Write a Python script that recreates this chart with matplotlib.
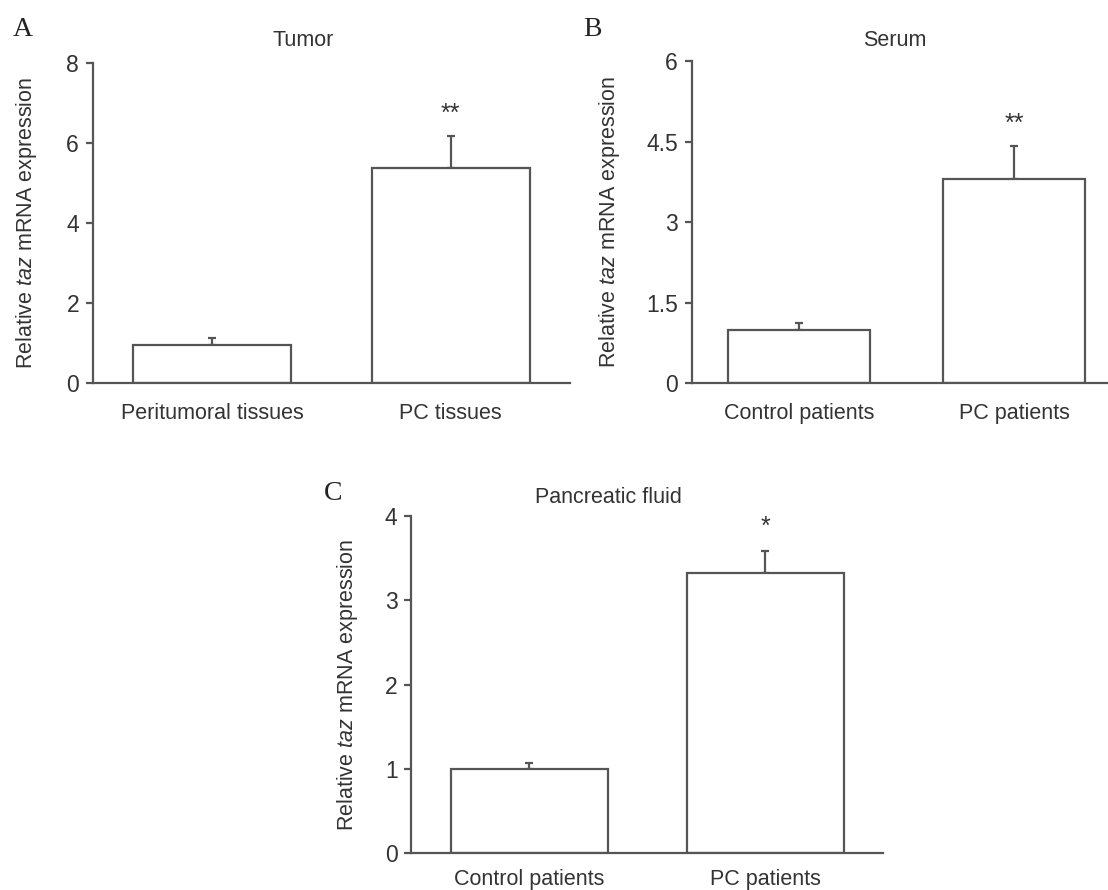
# taz mRNA expression bars: tumor / serum / pancreatic fluid

import matplotlib
matplotlib.use("Agg")
import matplotlib.pyplot as plt

# Panel A - tumor
tumor_groups = ["Peritumoral tissues", "PC tissues"]
tumor_mean = [0.96, 5.36]
tumor_err = [0.18, 0.81]
tumor_sig = ["", "**"]
tumor_ticks = [0, 2, 4, 6, 8]

# Panel B - serum
serum_groups = ["Control patients", "PC patients"]
serum_mean = [1.00, 3.80]
serum_err = [0.12, 0.61]
serum_sig = ["", "**"]
serum_ticks = [0, 1.5, 3, 4.5, 6]
serum_ticklabels = ["0", "1.5", "3", "4.5", "6"]

# Panel C - pancreatic fluid
fluid_groups = ["Control patients", "PC patients"]
fluid_mean = [1.00, 3.32]
fluid_err = [0.07, 0.27]
fluid_sig = ["", "*"]
fluid_ticks = [0, 1, 2, 3, 4]

LINE = "#555555"
TEXT = "#333333"
FS = 15.5

plt.rcParams["font.family"] = ["Liberation Sans", "DejaVu Sans"]
plt.rcParams["mathtext.fontset"] = "custom"
plt.rcParams["mathtext.rm"] = "Liberation Sans"
plt.rcParams["mathtext.it"] = "Liberation Sans:italic"

W, H = 1108, 890
fig = plt.figure(figsize=(W / 100, H / 100), dpi=100)
fig.patch.set_facecolor("white")


def px(x, y):
    # pixel coords (top-left origin) -> figure fraction
    return x / W, 1 - y / H


def make_axes(x0, x1, ytop, ybot):
    return fig.add_axes([x0 / W, 1 - ybot / H, (x1 - x0) / W, (ybot - ytop) / H])


def draw_panel(ax, groups, mean, err, sig, ticks, ymax, xmax,
               ticklabels=None, xpad=14):
    xs = list(range(len(groups)))
    ax.bar(xs, mean, width=0.663, color="white", edgecolor=LINE,
           linewidth=1.6, zorder=2)
    ax.errorbar(xs, mean, yerr=[[0] * len(err), err], fmt="none",
                ecolor=LINE, elinewidth=1.6, capsize=2.8, capthick=1.6,
                zorder=1)
    for x, m, e, s in zip(xs, mean, err, sig):
        if s:
            ax.text(x, m + e + 0.07 * ymax, s, ha="center", va="center",
                    fontsize=18, color=TEXT)
    ax.set_xlim(-0.5, xmax)
    ax.set_ylim(0, ymax)
    ax.set_xticks(xs)
    ax.set_xticklabels(groups, fontsize=FS, color=TEXT)
    ax.set_yticks(ticks)
    if ticklabels is not None:
        ax.set_yticklabels(ticklabels)
    ax.tick_params(axis="x", length=0, pad=xpad)
    ax.tick_params(axis="y", length=5, width=1.6, color=LINE, pad=5,
                   labelsize=16.5, labelcolor=TEXT)
    for side in ("top", "right"):
        ax.spines[side].set_visible(False)
    for side in ("left", "bottom"):
        ax.spines[side].set_color(LINE)
        ax.spines[side].set_linewidth(1.6)
        ax.spines[side].set_zorder(3)
    ax.set_facecolor("none")


YLAB = "Relative $\\it{taz}$ mRNA expression"

# A
axA = make_axes(93, 570, 62.7, 383.3)
draw_panel(axA, tumor_groups, tumor_mean, tumor_err, tumor_sig,
           tumor_ticks, 8, 1.5)
# B (axis runs off the right edge)
axB = make_axes(692, 1108, 61, 383.3)
draw_panel(axB, serum_groups, serum_mean, serum_err, serum_sig,
           serum_ticks, 6, 1.438, serum_ticklabels)
# C
axC = make_axes(411.4, 883.3, 516, 853.3)
draw_panel(axC, fluid_groups, fluid_mean, fluid_err, fluid_sig,
           fluid_ticks, 4, 1.5, xpad=11)

# titles, y labels, panel letters
for (tx, ty, title), (lx, ly), (cx, cy, letter) in [
    ((303, 40, "Tumor"), (27, 223), (23, 30, "A")),
    ((895, 40, "Serum"), (609, 222), (592, 29, "B")),
    ((608, 498, "Pancreatic fluid"), (348, 685), (333, 494, "C")),
]:
    fig.text(*px(tx, ty), title, ha="center", va="center", fontsize=FS,
             color=TEXT)
    fig.text(*px(lx, ly), YLAB, ha="center", va="center", rotation=90,
             fontsize=FS, color=TEXT)
    fig.text(*px(cx, cy), letter, ha="center", va="center", fontsize=20,
             color="#222222", family=["Liberation Serif", "DejaVu Serif"])

fig.savefig("out.png", dpi=100, facecolor="white")
